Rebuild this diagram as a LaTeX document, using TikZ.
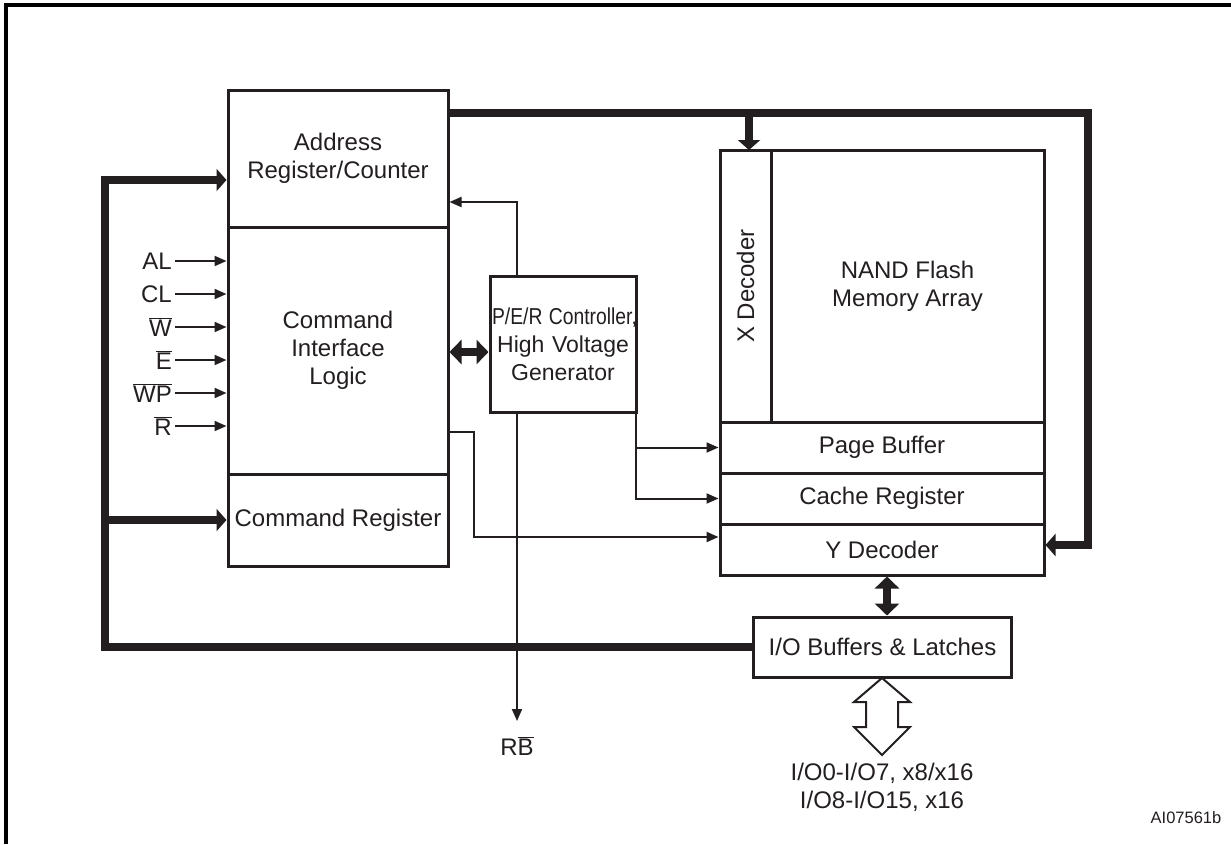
\documentclass[tikz,border=0pt]{standalone}
\usepackage{fontspec}
\usepackage{graphicx}
\setmainfont{Liberation Sans}
\usetikzlibrary{arrows.meta}
\definecolor{ink}{HTML}{231F20}
\begin{document}
\begin{tikzpicture}[x=1pt,y=-1pt,
  every node/.style={text=ink,font=\fontsize{24}{28}\selectfont},
  blk/.style={draw=ink,line width=3pt,inner sep=0pt,align=center},
  sig/.style={draw=ink,line width=2pt,-{Triangle[length=12pt,width=10pt]}},
  link/.style={draw=ink,line width=2pt},
  bus/.style={draw=ink,line width=8pt,line join=miter},
  bustip/.style={-{Triangle[length=10pt,width=22pt]}},
  busboth/.style={{Triangle[length=12pt,width=24pt]}-{Triangle[length=12pt,width=24pt]}}]
\useasboundingbox (0,0) rectangle (1231,844);
\fill[white] (0,0) rectangle (1231,844);
% frame
\draw[line width=4pt,black] (6,844) -- (6,5) -- (1231,5);
% left block
\node[blk,minimum width=220pt,minimum height=137pt] (addr) at (338,158.5) {Address\\Register/Counter};
\node[blk,minimum width=220pt,minimum height=247pt] (cil) at (338,350.5) {Command\\Interface\\Logic};
\node[blk,minimum width=220pt,minimum height=92pt] (cmd) at (338,520) {Command Register};
% P/E/R controller
\node[blk,minimum width=146pt,minimum height=136pt,text width=142pt,font=\fontsize{23}{28}\selectfont] (per) at (563,344) {\scalebox{0.84}[1]{P/E/R Controller,}\\High Voltage\\Generator};
% memory block
\node[blk,minimum width=51pt,minimum height=272pt] (xdec) at (745.5,286) {};
\node[rotate=90] (xdeclbl) at (xdec) {X Decoder};
\node[blk,minimum width=273pt,minimum height=272pt] (arr) at (907.5,286) {NAND Flash\\Memory Array};
\node[blk,minimum width=324pt,minimum height=51pt] (pb) at (882,447.5) {Page Buffer};
\node[blk,minimum width=324pt,minimum height=51pt] (cr) at (882,498.5) {Cache Register};
\node[blk,minimum width=324pt,minimum height=51pt] (yd) at (882,549.5) {Y Decoder};
% I/O buffers
\node[blk,minimum width=258pt,minimum height=60pt] (io) at (882.5,647) {I/O Buffers \& Latches};
% input signals
\foreach \n/\t/\y in {al/AL/261, cl/CL/294, w/{$\overline{\mbox{W}}$}/327, e/{$\overline{\mbox{E}}$}/360, wp/{$\overline{\mbox{WP}}$}/393, r/{$\overline{\mbox{R}}$}/426}{
  \node[anchor=east,inner sep=0pt] (\n) at (172,\y) {\t};
  \draw[sig] (175,\y) -- (cil.west |- \n.east);
}
% coordinates for routing
\coordinate (tr) at (1088,113);
\coordinate (lb) at (105,180);
\coordinate (v1) at (517,202);
\coordinate (v2) at (636,448);
\coordinate (v3) at (474,432);
\coordinate (v4) at (474,537);
\coordinate (dbl) at (470,352);
% top bus
\draw[bus,bustip] (addr.east |- tr) -- (tr) |- (yd.east |- 0,545);
\draw[bus,bustip] (xdec.north |- tr) ++(3.5,0) -- ++(0,37);
% left bus
\draw[bus,bustip] (io.west) -| (lb) -- (addr.west |- lb);
\draw[bus,bustip] (lb |- cmd.west) -- (cmd.west);
% CIL <-> PER
\draw[bus,busboth] (cil.east |- dbl) -- (per.west |- dbl);
% PER -> address
\draw[sig] (per.north -| v1) -- (v1) -- (addr.east |- v1);
% RB
\node (rb) at (517,746) {R$\overline{\mbox{B}}$};
\draw[sig] (per.south -| rb) -- (517,721);
% PER -> page buffer / cache register
\draw[sig] (per.south -| v2) |- (pb.west);
\draw[sig] (per.south -| v2) |- (cr.west);
% CIL -> Y decoder
\draw[sig] (cil.east |- v3) -| (v4) -- (yd.west |- v4);
% Y decoder <-> I/O
\draw[bus,busboth] (yd.south -| 887,0) -- (io.north -| 887,0);
% hollow I/O arrow
\draw[draw=ink,line width=2pt,line join=miter,fill=white]
  (882,678) -- (910,702) -- (898,702) -- (898,727) -- (910,727) -- (882,755)
  -- (854,727) -- (866,727) -- (866,702) -- (854,702) -- cycle;
\node[align=center] (iolbl) at (882,787) {I/O0-I/O7, x8/x16\\I/O8-I/O15, x16};
% figure code
\node[font=\fontsize{16.5}{20}\selectfont] (code) at (1186,818) {AI07561b};
\end{tikzpicture}
\end{document}
